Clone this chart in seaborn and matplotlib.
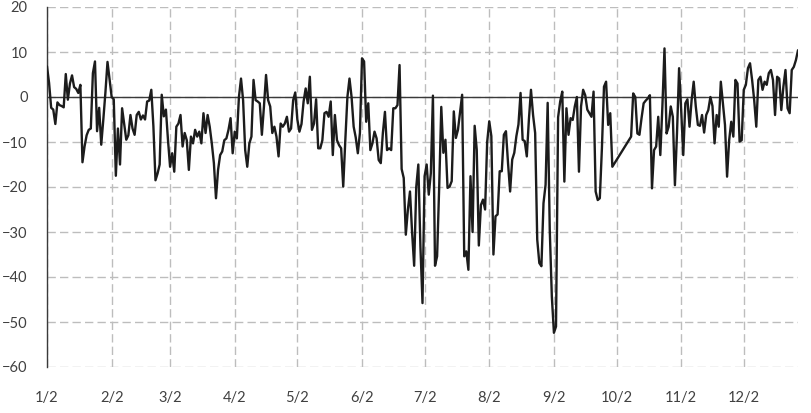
import pandas as pd
import matplotlib
matplotlib.use("Agg")
import matplotlib.pyplot as plt
import seaborn as sns

# === DATA (daily values, Oct 1-8 missing) ===
YEAR = 2015

jan = [6.8, 3.1, -2.4, -2.8, -6.0, -1.2, -1.8, -2.0, -2.3, 5.1,
       -0.6, 3.0, 4.8, 2.2, 1.8, 0.9, 2.7, -14.5, -11.0, -8.5,
       -7.3, -7.0, 5.3, 7.9, -7.6, -2.4, -10.6, -5.0, 1.0, 7.8]
feb = [4.0, 0.0, -0.5, -17.5, -7.0, -15.0, -2.5, -6.0, -9.5, -8.5,
       -4.0, -7.0, -8.4, -4.0, -3.3, -5.0, -4.1, -5.0, -1.0, -0.8,
       1.6, -6.5, -18.5, -17.0, -15.0, 0.5, -4.3, -2.8]
mar = [-9.6, -15.5, -12.5, -16.6, -6.6, -5.9, -4.0, -11.0, -8.0, -9.6,
       -16.2, -8.8, -10.3, -7.3, -8.8, -7.7, -10.3, -3.6, -8.0, -4.0,
       -6.6, -10.3, -14.7, -22.5, -16.2, -12.9, -12.1, -9.6, -9.2, -7.3,
       -4.7]
apr = [-12.5, -7.7, -9.2, 0.0, 4.1, -0.7, -11.8, -15.5, -10.3, -8.8,
       3.8, -0.7, -1.0, -1.4, -8.4, -2.1, 4.9, -0.7, -2.1, -8.0,
       -6.6, -8.8, -13.2, -5.9, -6.6, -5.9, -4.4, -7.7, -7.0, -0.7]
may = [1.0, -5.0, -7.7, -6.0, -1.0, 1.9, -1.4, 4.5, -7.3, -5.9,
       -0.5, -11.4, -11.4, -9.6, -3.6, -3.3, -4.4, -1.0, -12.9, -4.0,
       -9.6, -10.7, -11.4, -19.9, -9.6, 0.0, 4.1, 0.0, -6.6, -9.0,
       -12.5]
jun = [-8.0, 8.6, 7.9, -5.5, -1.4, -11.8, -10.3, -7.7, -9.2, -14.0,
       -14.7, -8.0, -3.3, -11.8, -11.4, -11.8, -2.5, -2.5, -1.8, 7.1,
       -16.0, -18.0, -30.6, -25.0, -21.0, -30.0, -37.5, -20.0, -15.0, -33.2]
jul = [-45.8, -17.6, -15.0, -21.7, -16.9, 0.3, -37.5, -35.4, -20.0, -2.2,
       -12.4, -9.5, -20.2, -19.9, -18.7, -3.2, -9.1, -7.3, -3.3, 0.5,
       -35.4, -34.3, -38.4, -17.6, -30.0, -6.4, -11.7, -33.0, -24.0, -22.8,
       -25.0]
aug = [-10.0, -5.4, -8.7, -35.0, -26.5, -26.1, -16.5, -16.5, -8.4, -7.6,
       -14.7, -21.0, -13.9, -12.4, -8.7, -6.1, 0.9, -9.5, -9.8, -13.2,
       -5.0, 1.6, -4.0, -8.0, -31.7, -36.9, -37.6, -23.6, -19.5, -1.3,
       -29.5]
sep = [-44.4, -52.4, -51.0, -4.5, -1.0, 1.2, -18.8, -2.5, -8.4, -4.7,
       -5.1, -2.1, 0.0, -16.6, -2.1, 1.6, 0.4, -2.8, -3.6, -4.4,
       1.2, -21.0, -22.9, -22.5, -11.4, 2.3, 3.4, -6.2, -3.6, -15.5]
oct_ = [-8.8, 0.8, 0.0, -8.1, -8.4, -4.7, -1.4, -0.8, -0.3, 0.4,
        -20.3, -11.8, -11.0, -4.4, -12.9, -2.0, 10.8, -8.1, -6.6, -2.1,
        -4.4, -19.6, -8.0]
nov = [6.4, -2.9, -12.9, -1.4, -0.5, -6.6, -0.7, 3.4, -2.1, -6.2,
       -6.4, -4.0, -7.9, -4.0, -2.9, 0.0, -2.0, -10.3, -4.0, -6.6,
       3.4, -1.4, -6.2, -17.7, -9.6, -5.5, -8.8, 3.8, 3.0, -9.9]
dec = [-9.6, 1.6, 2.7, 6.4, 7.5, 3.8, -0.7, -6.6, 3.8, 4.5,
       1.6, 3.4, 2.7, 5.3, 6.0, 3.8, -4.0, 4.5, 4.1, -2.9,
       2.3, 6.0, -2.5, -3.6, 6.0, 6.7, 8.2, 10.4]

# first date of each monthly block
blocks = [("01-02", jan), ("02-01", feb), ("03-01", mar), ("04-01", apr),
          ("05-01", may), ("06-01", jun), ("07-01", jul), ("08-01", aug),
          ("09-01", sep), ("10-09", oct_), ("11-01", nov), ("12-01", dec)]

frames = []
for start, vals in blocks:
    dates = pd.date_range(f"{YEAR}-{start}", periods=len(vals), freq="D")
    frames.append(pd.DataFrame({"date": dates, "value": vals}))
df = pd.concat(frames, ignore_index=True)

# === PLOT ===
sns.set_style("white")
plt.rcParams["font.family"] = ["Lato", "DejaVu Sans"]

fig = plt.figure(figsize=(8.12, 4.13), dpi=100)
ax = fig.add_axes([47 / 812, 46 / 413, 751 / 812, 360 / 413])

ax.grid(True, color="#bdbdbd", linestyle=(0, (6, 3)), linewidth=1)
ax.set_axisbelow(True)
ax.axhline(0, color="#3a3a3a", linewidth=1, zorder=2)

sns.lineplot(data=df, x="date", y="value", color="#1c1c1c", linewidth=1.7, ax=ax, zorder=3)

ax.set_ylim(-60, 20)
ax.set_yticks(range(-60, 21, 10))
ax.set_xlim(df["date"].min(), df["date"].max())
ticks = pd.date_range(f"{YEAR}-01-02", periods=12, freq=pd.DateOffset(months=1))
ax.set_xticks(ticks)
ax.set_xticklabels([f"{t.month}/{t.day}" for t in ticks])
ax.set_xlabel("")
ax.set_ylabel("")

for side in ["top", "right", "bottom"]:
    ax.spines[side].set_visible(False)
ax.spines["left"].set_color("#3a3a3a")
ax.spines["left"].set_linewidth(1)

ax.tick_params(axis="y", length=0, pad=14, labelsize=10.5, labelcolor="#404040")
ax.tick_params(axis="x", length=0, pad=17, labelsize=10.5, labelcolor="#404040")

fig.savefig("out.png", dpi=100)
